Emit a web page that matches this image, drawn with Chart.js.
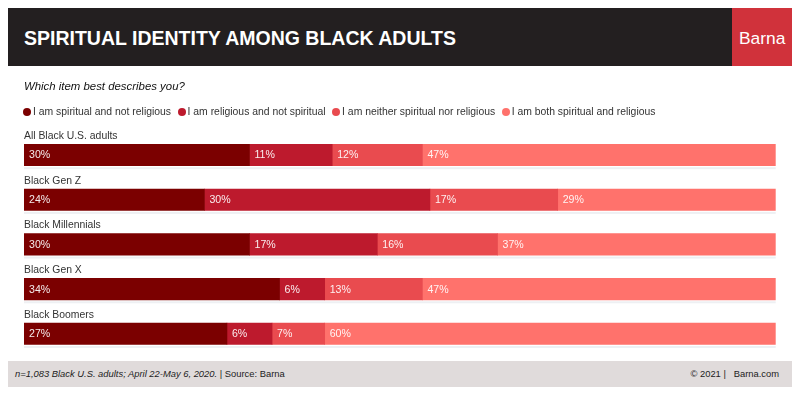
<!DOCTYPE html>
<html>
<head>
<meta charset="utf-8">
<script src="https://cdn.jsdelivr.net/npm/chart.js@4.4.1/dist/chart.umd.min.js"></script>
<style>
  body { margin: 0; width: 800px; height: 395px; position: relative; overflow: hidden; background: #fff;
         font-family: "Liberation Sans", Arial, Helvetica, sans-serif; }
  #chart { position: absolute; left: 0; top: 0; }
  .abs { position: absolute; white-space: nowrap; }
  #header { left: 8px; top: 8px; width: 724px; height: 58px; background: #231f20; }
  #brand { left: 732px; top: 8px; width: 60px; height: 58px; background: #d0323b; }
  #title { left: 24px; top: 28.5px; font-size: 19.5px; line-height: 19.5px; font-weight: bold; color: #fff; }
  #brandText { left: 739px; top: 30px; font-size: 17.4px; line-height: 17.4px; color: #fff; }
  #question { left: 24px; top: 81px; font-size: 11.4px; line-height: 11.4px; font-style: italic; color: #111; }
  #legend { left: 23px; top: 107px; display: flex; font-size: 10.4px; line-height: 10.4px; color: #333; }
  #legend .item { display: flex; align-items: center; margin-right: 6.5px; }
  #legend .dot { width: 8px; height: 8px; border-radius: 50%; margin-right: 2px; }
  #footer { left: 8px; top: 361px; width: 784px; height: 26px; background: #e0dbdb; }
  #note { left: 15px; top: 369.3px; font-size: 9.4px; line-height: 9.4px; color: #222; }
  #copy { right: 21px; top: 369.3px; font-size: 9.4px; line-height: 9.4px; color: #222; }
</style>
</head>
<body>
<canvas id="chart" width="800" height="395"></canvas>
<div class="abs" id="header"></div>
<div class="abs" id="brand"></div>
<div class="abs" id="title">SPIRITUAL IDENTITY AMONG BLACK ADULTS</div>
<div class="abs" id="brandText">Barna</div>
<div class="abs" id="question">Which item best describes you?</div>
<div class="abs" id="legend"></div>
<div class="abs" id="footer"></div>
<div class="abs" id="note"><i>n=1,083 Black U.S. adults; April 22-May 6, 2020.</i> | Source: Barna</div>
<div class="abs" id="copy">© 2021 |&nbsp;&nbsp; Barna.com</div>

<script>
// groups shown as rows
const categories = ['All Black U.S. adults', 'Black Gen Z', 'Black Millennials', 'Black Gen X', 'Black Boomers'];

// answer options (legend order)
const seriesNames = [
    'I am spiritual and not religious',
    'I am religious and not spiritual',
    'I am neither spiritual nor religious',
    'I am both spiritual and religious'
];

// percentages per group
const spiritualNotReligious = [30, 24, 30, 34, 27];
const religiousNotSpiritual = [11, 30, 17, 6, 6];
const neither = [12, 17, 16, 13, 7];
const both = [47, 29, 37, 47, 60];

const seriesColors = ['#7b0000', '#bd1a2d', '#e94b4f', '#ff726c'];

// html legend
const legendEl = document.getElementById('legend');
seriesNames.forEach((name, i) => {
    const item = document.createElement('div');
    item.className = 'item';
    item.innerHTML = `<span class="dot" style="background:${seriesColors[i]}"></span><span>${name}</span>`;
    legendEl.appendChild(item);
});

const FONT = '"Liberation Sans", Arial, Helvetica, sans-serif';

// draws the group names above bars, faint underline and % labels inside segments
const barLabels = {
    id: 'barLabels',
    beforeDatasetsDraw(chart) {
        const ctx = chart.ctx;
        const meta = chart.getDatasetMeta(0);
        const area = chart.chartArea;
        ctx.save();
        ctx.fillStyle = '#eef0f3';
        meta.data.forEach(bar => {
            ctx.fillRect(area.left, bar.y + bar.height / 2 + 1.5, area.right - area.left, 2);
        });
        ctx.restore();
    },
    afterDatasetsDraw(chart) {
        const ctx = chart.ctx;
        ctx.save();
        ctx.font = '10.4px ' + FONT;
        ctx.textAlign = 'left';

        // category names
        ctx.fillStyle = '#333';
        ctx.textBaseline = 'alphabetic';
        chart.getDatasetMeta(0).data.forEach((bar, i) => {
            ctx.fillText(categories[i], chart.chartArea.left, bar.y - bar.height / 2 - 5.3);
        });

        // values
        ctx.font = '10.6px ' + FONT;
        ctx.fillStyle = 'rgba(255,255,255,0.92)';
        ctx.textBaseline = 'middle';
        chart.data.datasets.forEach((ds, d) => {
            chart.getDatasetMeta(d).data.forEach((bar, i) => {
                const left = Math.min(bar.x, bar.base);
                ctx.fillText(ds.data[i] + '%', left + 5, bar.y + 0.5);
            });
        });
        ctx.restore();
    }
};

const seriesValues = [spiritualNotReligious, religiousNotSpiritual, neither, both];

new Chart(document.getElementById('chart'), {
    type: 'bar',
    data: {
        labels: categories,
        datasets: seriesValues.map((vals, i) => ({
            label: seriesNames[i],
            data: vals,
            backgroundColor: seriesColors[i],
            borderWidth: 0,
            barThickness: 21.4
        }))
    },
    options: {
        indexAxis: 'y',
        responsive: false,
        animation: false,
        devicePixelRatio: 1,
        layout: { padding: { left: 24, right: 24.3, top: 132.65, bottom: 38.85 } },
        scales: {
            x: { stacked: true, min: 0, max: 100, display: false },
            y: { stacked: true, display: false }
        },
        plugins: {
            legend: { display: false },
            tooltip: { enabled: false }
        }
    },
    plugins: [barLabels]
});
</script>
</body>
</html>
